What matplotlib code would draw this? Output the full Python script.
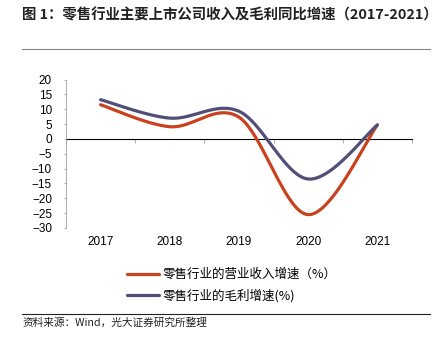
import numpy as np
import matplotlib.pyplot as plt
from matplotlib.lines import Line2D

plt.rcParams['font.family'] = ['Noto Sans CJK SC', 'DejaVu Sans']

years = ['2017', '2018', '2019', '2020', '2021']
revenue_growth = [11.5, 4.1, 7.3, -25.5, 4.7]
gross_profit_growth = [13.2, 7.0, 9.3, -13.5, 4.7]
revenue_label = '零售行业的营业收入增速（%）'
profit_label = '零售行业的毛利增速(%)'
y_ticks = [20, 15, 10, 5, 0, -5, -10, -15, -20, -25, -30]

red = '#C9411E'
purple = '#514E78'


def smooth(xs, ys, n=40):
    # catmull-rom style smoothing, like the office "smoothed line" option
    xs = np.asarray(xs, float)
    ys = np.asarray(ys, float)
    px = np.concatenate([[xs[0]], xs, [xs[-1]]])
    py = np.concatenate([[ys[0]], ys, [ys[-1]]])
    out_x, out_y = [], []
    for i in range(1, len(px) - 2):
        p0 = np.array([px[i], py[i]])
        p3 = np.array([px[i + 1], py[i + 1]])
        c1 = p0 + (np.array([px[i + 1], py[i + 1]]) - np.array([px[i - 1], py[i - 1]])) / 6
        c2 = p3 - (np.array([px[i + 2], py[i + 2]]) - np.array([px[i], py[i]])) / 6
        t = np.linspace(0, 1, n)[:, None]
        pts = ((1 - t) ** 3) * p0 + 3 * ((1 - t) ** 2) * t * c1 + 3 * (1 - t) * t ** 2 * c2 + t ** 3 * p3
        out_x.extend(pts[:, 0])
        out_y.extend(pts[:, 1])
    return np.array(out_x), np.array(out_y)


fig = plt.figure(figsize=(4.45, 3.46), dpi=100)
ax = fig.add_axes([66 / 445, 1 - 228 / 346, (412 - 66) / 445, (228 - 79.5) / 346])

x = np.arange(len(years))
sx, sy = smooth(x, revenue_growth)
ax.plot(sx, sy, color=red, lw=2.3, solid_capstyle='round', label=revenue_label)
sx, sy = smooth(x, gross_profit_growth)
ax.plot(sx, sy, color=purple, lw=2.3, solid_capstyle='round', label=profit_label)

ax.set_xlim(-0.5, len(years) - 0.5)
ax.set_ylim(-30, 20)
ax.set_yticks(y_ticks)
ax.tick_params(axis='y', length=1.6, width=0.6, color='#A0A0A0', labelsize=8.5, pad=8.5)
for lbl in ax.get_yticklabels():
    lbl.set_fontfamily(['Liberation Sans', 'DejaVu Sans'])

ax.set_xticks(x)
ax.set_xticklabels(years)
ax.tick_params(axis='x', length=0, labelsize=8.5, pad=5.5)
for lbl in ax.get_xticklabels():
    lbl.set_fontfamily(['Liberation Sans', 'DejaVu Sans'])

for s in ['top', 'right', 'bottom']:
    ax.spines[s].set_visible(False)
ax.spines['left'].set_color('#A0A0A0')
ax.spines['left'].set_linewidth(0.6)

zero_ax = ax.secondary_xaxis(0.6)
zero_ax.set_xticks(np.arange(len(years) + 1) - 0.5)
zero_ax.tick_params(direction='in', length=3, width=0.6, color='#A0A0A0', labelbottom=False)
zero_ax.spines['bottom'].set_color('#A0A0A0')
zero_ax.spines['bottom'].set_linewidth(0.8)
zero_ax.set_xticklabels([])

fig.legend(loc='upper left', bbox_to_anchor=(116 / 445, 1 - 257 / 346), frameon=False,
           fontsize=9, handlelength=2.5, handletextpad=0.35, labelspacing=0.62)

fig.text(22 / 445, 1 - 15 / 346, '图 1：零售行业主要上市公司收入及毛利同比增速（2017-2021）',
         fontsize=10.4, fontweight='bold', va='center', ha='left', color='#222222')
fig.add_artist(Line2D([22 / 445, 430 / 445], [1 - 49 / 346] * 2, color='#888888', lw=0.8))
fig.add_artist(Line2D([22 / 445, 430 / 445], [1 - 314 / 346] * 2, color='#222222', lw=0.8))
fig.text(22 / 445, 1 - 323 / 346, '资料来源：Wind，光大证券研究所整理',
         fontsize=7.7, va='center', ha='left', color='#222222')

fig.savefig('out.png', dpi=100)
